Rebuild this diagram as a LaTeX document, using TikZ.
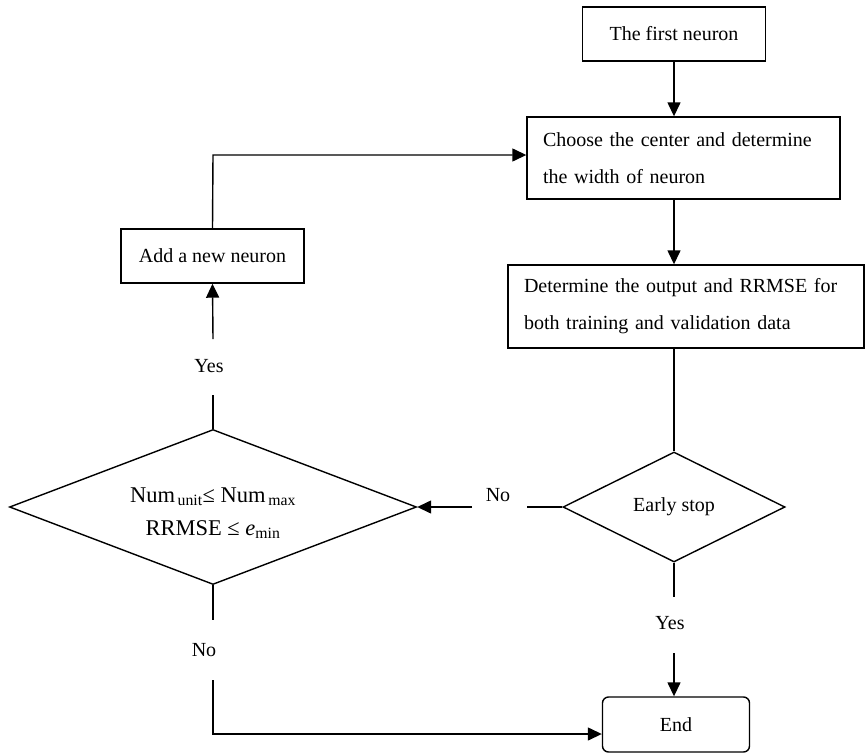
\documentclass[tikz,border=0pt]{standalone}
\usepackage{fontspec}
\setmainfont{Liberation Serif}
\usetikzlibrary{shapes.geometric,arrows.meta}
\begin{document}
\begin{tikzpicture}[x=1pt,y=-1pt,
  every node/.style={font=\fontsize{20}{37}\selectfont},
  boxnode/.style={draw,line width=1.4pt,rectangle,inner sep=0pt},
  dia/.style={draw,line width=1.4pt,diamond,inner sep=0pt},
  lbl/.style={inner sep=0pt},
  ln/.style={line width=1.4pt},
  arr/.style={line width=1.4pt,-{Triangle[length=14pt,width=13pt]}}]
\useasboundingbox (0,0) rectangle (865,753);
\node[boxnode,minimum width=183pt,minimum height=54pt] (first) at (674,34) {The first neuron};
\node[boxnode,minimum width=313pt,minimum height=82pt,text width=281pt,align=left] (choose) at (683.5,158) {Choose the center and determine\\the width of neuron};
\node[boxnode,minimum width=356pt,minimum height=83pt,text width=324pt,align=left] (determ) at (686,306.5) {Determine the output and RRMSE for\\both training and validation data};
\node[dia,minimum width=222pt,minimum height=110pt] (early) at (674,507) {};
\node[lbl] (earlyt) at (674,507) {Early stop};
\node[dia,minimum width=407pt,minimum height=155pt] (big) at (213,507) {};
\node[lbl,align=center,font=\fontsize{22.5}{33}\selectfont] (bigt) at (213,513) {Num\textsubscript{\,unit}≤ Num\textsubscript{\,max}\\RRMSE ≤ \textit{e}\textsubscript{min}};
\node[boxnode,minimum width=183pt,minimum height=54pt] (add) at (212.5,256) {Add a new neuron};
\node[boxnode,rounded corners=6pt,minimum width=147pt,minimum height=55pt] (end) at (676,724.5) {End};
% labels
\node[lbl] (yes1) at (209,366) {Yes};
\node[lbl] (no1) at (498,495) {No};
\node[lbl] (yes2) at (670,623) {Yes};
\node[lbl] (no2) at (204,650) {No};
% coordinates
\coordinate (y1a) at (213,395);
\coordinate (y1b) at (213,339);
\coordinate (n1a) at (527,507);
\coordinate (n1b) at (472,507);
\coordinate (y2a) at (674,597);
\coordinate (y2b) at (674,653);
\coordinate (n2a) at (213,620);
\coordinate (n2b) at (213,680);
\coordinate (n2c) at (213,734);
\coordinate (loop) at (213,155);
% connectors
\draw[arr] (first.south) -- (first.south |- choose.north);
\draw[arr] (first.south |- choose.south) -- (first.south |- determ.north);
\draw[ln] (first.south |- determ.south) -- (early.north);
\draw[ln] (early.west) -- (n1a);
\draw[arr] (n1b) -- (big.east);
\draw[ln] (big.north) -- (y1a);
\draw[arr] (y1b) -- (add.south);
\draw[arr] (add.north) -- (loop) -- (loop -| choose.west);
\draw[ln] (early.south) -- (y2a);
\draw[arr] (y2b) -- (y2b |- end.north);
\draw[ln] (big.south) -- (n2a);
\draw[arr] (n2b) -- (n2c) -- (n2c -| end.west);
\end{tikzpicture}
\end{document}
